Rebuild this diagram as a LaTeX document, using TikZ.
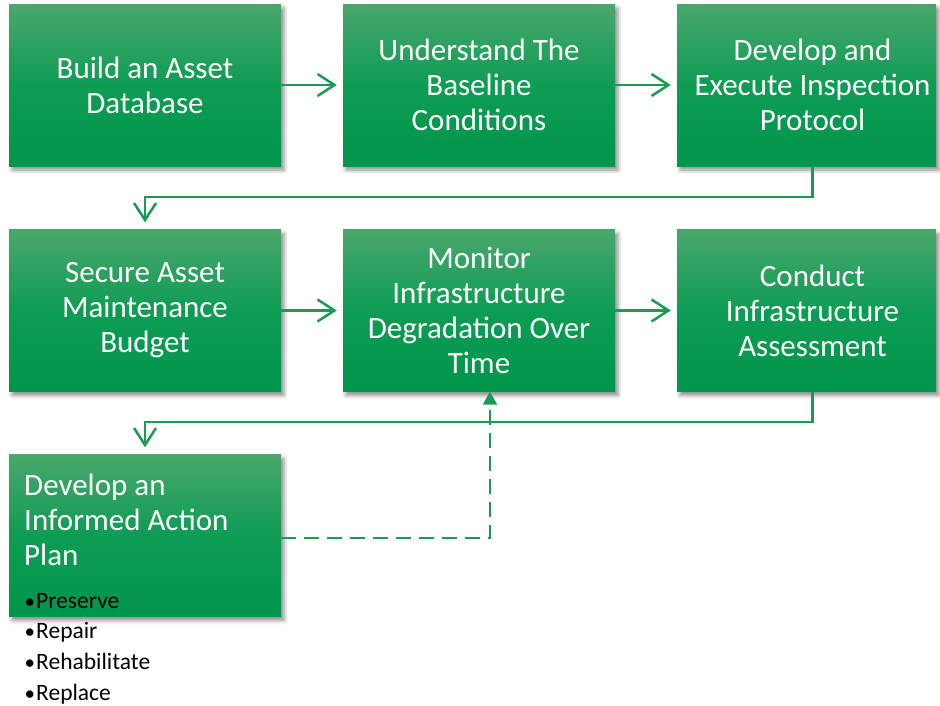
\documentclass[tikz,border=0pt]{standalone}
\usepackage{fontspec}
\setmainfont{Carlito}
\usetikzlibrary{arrows.meta,shadows.blur}
\definecolor{gtop}{RGB}{74,167,108}
\definecolor{gmid}{RGB}{14,156,84}
\definecolor{gbot}{RGB}{0,150,76}
\definecolor{gline}{RGB}{24,155,82}
\newcommand{\bul}{\makebox[12pt][l]{\hspace{0.5pt}\raisebox{0pt}{\fontsize{21}{21}\selectfont•}}}
\begin{document}
\begin{tikzpicture}[x=1pt,y=-1pt,
  boxbase/.style={minimum height=162pt, inner sep=0pt,
    top color=gtop, bottom color=gbot, middle color=gmid,
    blur shadow={shadow xshift=3pt, shadow yshift=-4pt, shadow blur radius=4pt, shadow opacity=45}},
  box/.style={boxbase, minimum width=272pt},
  narrowbox/.style={boxbase, minimum width=259pt},
  boxtext/.style={text=white, align=center, inner sep=0pt, font=\fontsize{31}{35}\selectfont},
  bullettext/.style={text=black, align=left, inner sep=0pt, font=\fontsize{23.5}{30.6}\selectfont},
  conn/.style={draw=gline, line width=2.5pt, shorten >=6pt,
    -{Straight Barb[length=17pt,width=22pt,line width=2.5pt]}},
  dconn/.style={draw=gline, line width=2.5pt, dash pattern=on 15pt off 8pt,
    -{Triangle[length=13pt,width=14pt]}},
]
\useasboundingbox (0,0) rectangle (940,705);

% boxes
\node[box, boxtext] (b1) at (145,85) {Build an Asset\\Database};
\node[box, boxtext] (b2) at (479,85) {Understand The\\Baseline\\Conditions};
\node[narrowbox] (b3) at (806.5,85) {};
\node[boxtext] (t3) at (812.5,85) {Develop and\\Execute Inspection\\Protocol};

\node[box, boxtext] (b4) at (145,310.5) {Secure Asset\\Maintenance\\Budget};
\node[box, boxtext] (b5) at (479,310.5) {Monitor\\Infrastructure\\Degradation Over\\Time};
\node[narrowbox] (b6) at (806.5,310.5) {};
\node[boxtext] (t6) at (812.5,310.5) {Conduct\\Infrastructure\\Assessment};

\node[box] (b7) at (145,535.5) {};
\node[boxtext, align=left, anchor=north west] (t7) at (24,474) {Develop an\\Informed Action\\Plan};
\node[bullettext, anchor=north west] (l7) at (24,593) {\bul Preserve\\\bul Repair\\\bul Rehabilitate\\\bul Replace};

% bend coordinates
\coordinate (c1) at (145,197);
\coordinate (c2) at (145,422);

% connectors
\draw[conn] (b1.east) -- (b2.west);
\draw[conn] (b2.east) -- (b3.west);
\draw[conn, shorten >=7pt] (t3 |- b3.south) |- (c1) -- (b4.north);
\draw[conn] (b4.east) -- (b5.west);
\draw[conn] (b5.east) -- (b6.west);
\draw[conn, shorten >=7pt] (t6 |- b6.south) |- (c2) -- (b7.north);
\draw[dconn] ([yshift=-2.5pt]b7.east) -| ([xshift=11pt]b5.south);
\end{tikzpicture}
\end{document}
